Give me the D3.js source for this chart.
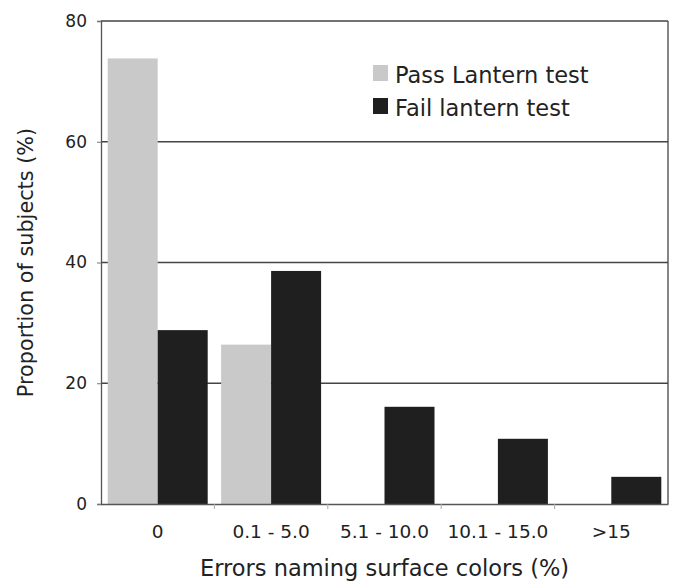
<!DOCTYPE html>
<html>
<head>
<meta charset="utf-8">
<script src="https://cdn.jsdelivr.net/npm/d3@7"></script>
<style>
  html, body { margin: 0; padding: 0; background: #fff; }
  svg { display: block; }
  text { font-family: "DejaVu Sans", Verdana, sans-serif; fill: #222; }
</style>
</head>
<body>
<script>
const categories = ["0", "0.1 - 5.0", "5.1 - 10.0", "10.1 - 15.0", ">15"];
const seriesNames = ["Pass Lantern test", "Fail lantern test"];
const passValues = [73.8, 26.4, 0, 0, 0];
const failValues = [28.8, 38.6, 16.1, 10.8, 4.5];
const yTicks = [0, 20, 40, 60, 80];
const seriesColors = ["#c9c9c9", "#1f1f1f"];

const W = 676, H = 582;
const m = { left: 101, right: 8, top: 21, bottom: 78 };

const svg = d3.select("body").append("svg").attr("width", W).attr("height", H);

const x0 = d3.scaleBand().domain(categories).range([m.left, W - m.right]).padding(0);
const x1 = d3.scaleBand().domain(seriesNames).range([0, x0.bandwidth()]).paddingInner(0).paddingOuter(0.134);
const y = d3.scaleLinear().domain([0, 80]).range([H - m.bottom, m.top]);

// gridlines
svg.append("g")
  .selectAll("line").data(yTicks.filter(d => d > 0)).join("line")
  .attr("x1", m.left).attr("x2", W - m.right)
  .attr("y1", d => y(d)).attr("y2", d => y(d))
  .attr("stroke", "#444").attr("stroke-width", 1.3);

// right border
svg.append("line")
  .attr("x1", W - m.right).attr("x2", W - m.right)
  .attr("y1", y(80)).attr("y2", y(0))
  .attr("stroke", "#444").attr("stroke-width", 1.3);

// bars
const data = categories.map((c, i) => ({ cat: c, vals: [passValues[i], failValues[i]] }));
const groups = svg.append("g").selectAll("g").data(data).join("g")
  .attr("transform", d => `translate(${x0(d.cat)},0)`);
groups.selectAll("rect").data(d => d.vals.map((v, j) => ({ v, s: seriesNames[j], j })))
  .join("rect")
  .attr("x", d => x1(d.s))
  .attr("width", x1.bandwidth())
  .attr("y", d => y(d.v))
  .attr("height", d => y(0) - y(d.v))
  .attr("fill", d => seriesColors[d.j]);

// y axis
const yAxis = svg.append("g")
  .attr("transform", `translate(${m.left},0)`)
  .call(d3.axisLeft(y).tickValues(yTicks).tickSize(4).tickPadding(10));
yAxis.select(".domain").attr("stroke", "#555").attr("stroke-width", 1.3);
yAxis.selectAll(".tick line").attr("stroke", "#777");
yAxis.selectAll(".tick text").attr("font-size", 17).attr("font-family", "DejaVu Sans").attr("fill", "#222");

// x axis
const xAxis = svg.append("g")
  .attr("transform", `translate(0,${y(0)})`)
  .call(d3.axisBottom(x0).tickSize(0).tickPadding(21));
xAxis.select(".domain").attr("stroke", "#555").attr("stroke-width", 1.3);
xAxis.selectAll(".tick text").attr("font-size", 18.5).attr("font-family", "DejaVu Sans").attr("fill", "#222");
// category boundary ticks
svg.append("g").selectAll("line").data(categories.slice(1)).join("line")
  .attr("x1", d => x0(d)).attr("x2", d => x0(d))
  .attr("y1", y(0)).attr("y2", y(0) + 5)
  .attr("stroke", "#aaa");

// axis titles
svg.append("text")
  .attr("x", (m.left + W - m.right) / 2).attr("y", 576)
  .attr("text-anchor", "middle").attr("font-size", 22.5)
  .text("Errors naming surface colors (%)");
svg.append("text")
  .attr("transform", `translate(33,${(m.top + H - m.bottom) / 2}) rotate(-90)`)
  .attr("text-anchor", "middle").attr("font-size", 20.8)
  .text("Proportion of subjects (%)");

// legend
const lg = svg.append("g").attr("transform", "translate(373,65)");
seriesNames.forEach((s, i) => {
  const row = lg.append("g").attr("transform", `translate(0,${i * 33})`);
  row.append("rect").attr("width", 15).attr("height", 16).attr("fill", seriesColors[i]);
  row.append("text").attr("x", 22).attr("y", 18).attr("font-size", 22.5).text(s);
});
</script>
</body>
</html>
